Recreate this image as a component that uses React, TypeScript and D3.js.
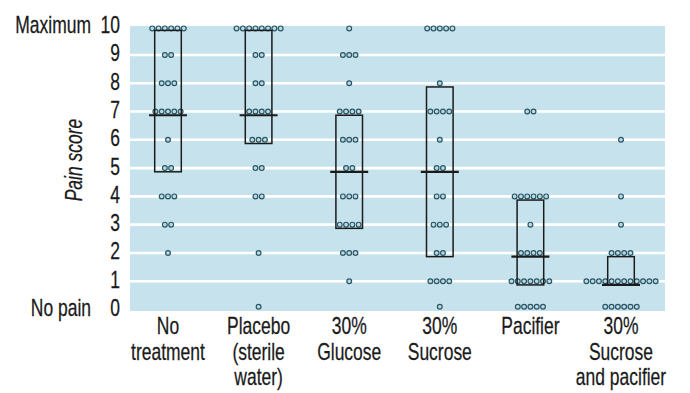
import React from "react";
import * as d3 from "d3";

// ---- data ----
const groupLabels: string[][] = [
  ["No", "treatment"],
  ["Placebo", "(sterile", "water)"],
  ["30%", "Glucose"],
  ["30%", "Sucrose"],
  ["Pacifier"],
  ["30%", "Sucrose", "and pacifier"],
];
const groupKeys = ["none", "placebo", "glucose", "sucrose", "pacifier", "sucrosePacifier"];

// number of infants at each pain score 0..10
const noTreatment = [0, 0, 1, 2, 3, 2, 1, 5, 3, 2, 6];
const placebo = [1, 0, 1, 0, 2, 2, 3, 4, 2, 2, 8];
const glucose = [0, 1, 3, 4, 3, 2, 3, 4, 1, 3, 1];
const sucrose = [1, 4, 2, 3, 2, 2, 1, 4, 1, 0, 5];
const pacifier = [5, 7, 4, 1, 6, 0, 0, 2, 0, 0, 0];
const sucrosePacifier = [6, 12, 4, 1, 1, 0, 1, 0, 0, 0, 0];
const countsByGroup = [noTreatment, placebo, glucose, sucrose, pacifier, sucrosePacifier];

const medians = [7, 7, 5, 5, 2, 1];
const lowerQuartiles = [5, 6, 3, 2, 1, 1];
const upperQuartiles = [10, 10, 7, 8, 4, 2];

const yTicks = [0, 1, 2, 3, 4, 5, 6, 7, 8, 9, 10];
const gridValues = [1, 2, 3, 4, 5, 6, 7, 8, 9];
const endLabels = [
  { value: 10, text: "Maximum" },
  { value: 0, text: "No pain" },
];
const yTitle = "Pain score";

// ---- layout ----
const W = 690;
const H = 393;
const FONT = "'Liberation Sans', Arial, sans-serif";
const BG = "#c6e3ed";
const SX = 0.76; // horizontal condensing to mimic a condensed face

function NText(props: {
  x: number;
  y: number;
  anchor: "start" | "middle" | "end";
  size?: number;
  italic?: boolean;
  rotate?: number;
  children: React.ReactNode;
}) {
  const { x, y, anchor, size = 23, italic, rotate = 0, children } = props;
  return (
    <text
      transform={`translate(${x},${y}) rotate(${rotate}) scale(${SX},1)`}
      textAnchor={anchor}
      fontFamily={FONT}
      fontStyle={italic ? "italic" : "normal"}
      fontSize={size}
      fill="#1a1a1a"
      stroke="#1a1a1a"
      strokeWidth={0.25}
    >
      {children}
    </text>
  );
}

export default function App() {
  const x = d3.scalePoint<string>().domain(groupKeys).range([168, 621]);
  const y = d3.scaleLinear().domain([0, 10]).range([309.5, 26.7]);
  const plotLeft = 130;
  const plotRight = 665;
  const dotStep = 6.3;
  const dotR = 2.4;
  const boxHalf = 13.3;
  const medHalf = 19;
  const boxOff = 3.7;
  const dotY = (v: number) => Math.max(28.4, Math.min(306.7, y(v)));

  return (
    <div style={{ position: "absolute", left: 0, top: 0, width: W, height: H, background: "#fff" }}>
      <svg width={W} height={H} style={{ display: "block" }}>
        <rect x={plotLeft} y={y(10) - 0.7} width={plotRight - plotLeft} height={y(0) - y(10) + 2.2} fill={BG} />
        {gridValues.map((v) => (
          <line key={v} x1={plotLeft} x2={plotRight} y1={y(v)} y2={y(v)} stroke="#fff" strokeWidth={2.6} />
        ))}

        {/* dots */}
        {countsByGroup.map((counts, gi) => {
          const cx = x(groupKeys[gi]) as number;
          return counts.map((n, score) =>
            d3.range(n).map((j) => (
              <circle
                key={`${gi}-${score}-${j}`}
                cx={cx + (j - (n - 1) / 2) * dotStep}
                cy={dotY(score)}
                r={dotR}
                fill="#b8dbe7"
                stroke="#2c5563"
                strokeWidth={1.2}
              />
            ))
          );
        })}

        {/* boxes and medians */}
        {groupKeys.map((k, gi) => {
          const cx = x(k) as number;
          const top = y(upperQuartiles[gi]) + boxOff;
          const bot = y(lowerQuartiles[gi]) + boxOff;
          const my = y(medians[gi]) + boxOff;
          return (
            <g key={k}>
              <rect x={cx - boxHalf} y={top} width={boxHalf * 2} height={bot - top} fill="none" stroke="#1b1b1b" strokeWidth={1.5} />
              <line x1={cx - medHalf} x2={cx + medHalf} y1={my} y2={my} stroke="#1b1b1b" strokeWidth={2.2} />
            </g>
          );
        })}

        {/* y tick labels */}
        {yTicks.map((v) => (
          <NText key={v} x={120} y={y(v) + 6.5} anchor="end">
            {v}
          </NText>
        ))}
        {endLabels.map((d) => (
          <NText key={d.text} x={91} y={y(d.value) + 6.5} anchor="end">
            {d.text}
          </NText>
        ))}
        <NText x={82} y={y(5) - 8} anchor="middle" italic rotate={-90}>
          {yTitle}
        </NText>

        {/* x labels */}
        {groupLabels.map((lines, gi) =>
          lines.map((t, li) => (
            <NText key={`${gi}-${li}`} x={x(groupKeys[gi]) as number} y={334 + li * 25.5} anchor="middle">
              {t}
            </NText>
          ))
        )}
      </svg>
    </div>
  );
}
